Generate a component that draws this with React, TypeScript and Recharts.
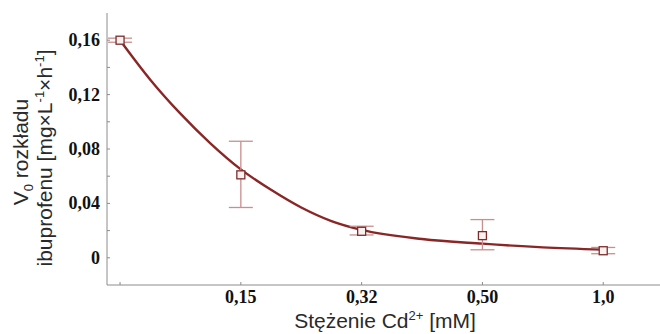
import React from 'react';
import { ComposedChart, Line, Scatter, XAxis, YAxis, ErrorBar } from 'recharts';

const categoryIndex = [0, 1, 2, 3, 4];
const categoryLabels = ['', '0,15', '0,32', '0,50', '1,0'];
const meanRate = [0.16, 0.061, 0.0195, 0.0163, 0.0052];
const errorLow = [0.0015, 0.024, 0.0027, 0.0104, 0.0022];
const errorHigh = [0.0015, 0.0247, 0.0037, 0.0118, 0.0024];
const fitX = [0, 0.25, 0.5, 0.75, 1, 1.25, 1.5, 1.75, 2, 2.5, 3, 3.5, 4];
const fitY = [0.16, 0.131, 0.106, 0.084, 0.065, 0.05, 0.037, 0.027, 0.0205, 0.0138, 0.0104, 0.0077, 0.006];
const yAllTicks = [0, 0.02, 0.04, 0.06, 0.08, 0.1, 0.12, 0.14, 0.16];
const yMajorTicks = [0, 0.04, 0.08, 0.12, 0.16];
const topTicks = [1, 2, 3, 4, 5];

const pointData = categoryIndex.map((x, i) => ({
  x,
  y: meanRate[i],
  err: [errorLow[i], errorHigh[i]],
}));
const fitData = fitX.map((x, i) => ({ x, fit: fitY[i] }));

const AXIS = '#8c8c8c';
const CURVE = '#8a2626';
const ERR = '#c98e8e';
const MARK = '#7c2c2c';

const fmt = (v: number) => v.toFixed(2).replace('.', ',');

const BottomTick = (props: any) => {
  const { x, y, payload } = props;
  const idx = categoryIndex.indexOf(Math.round(payload.value));
  const label = idx >= 0 ? categoryLabels[idx] : '';
  return (
    <g>
      <line x1={x} x2={x} y1={y} y2={y - 3} stroke={AXIS} strokeWidth={1} />
      {label ? (
        <text x={x} y={y + 18} textAnchor="middle" fontFamily="'Liberation Serif', 'Times New Roman', serif" fontWeight="bold" fontSize={18} fill="#111">
          {label}
        </text>
      ) : null}
    </g>
  );
};

const TopTick = (props: any) => {
  const { x, y } = props;
  return <line x1={x} x2={x} y1={y} y2={y + 3} stroke={AXIS} strokeWidth={1} />;
};

const LeftTick = (props: any) => {
  const { x, y, payload } = props;
  const v = payload.value;
  const major = yMajorTicks.some((m) => Math.abs(m - v) < 1e-9);
  return (
    <g>
      <line x1={x} x2={x + 3} y1={y} y2={y} stroke={AXIS} strokeWidth={1} />
      {major ? (
        <text x={x - 7} y={y + 6} textAnchor="end" fontFamily="'Liberation Serif', 'Times New Roman', serif" fontWeight="bold" fontSize={18} fill="#111">
          {v === 0 ? '0' : fmt(v)}
        </text>
      ) : null}
    </g>
  );
};

const YTitle = () => (
  <g fontFamily="'Liberation Sans', Arial, sans-serif" fontSize={21} fill="#2a2a2a">
    <text transform="translate(27.5,152) rotate(-90)" x={0} y={0} textAnchor="middle">
      V<tspan fontSize={13} dy={5}>0</tspan>
      <tspan dy={-5}> rozkładu</tspan>
    </text>
    <text transform="translate(51.5,158) rotate(-90)" x={0} y={0} textAnchor="middle">
      ibuprofenu [mg×L<tspan fontSize={13} dy={-8}>-1</tspan>
      <tspan dy={8}>×h</tspan>
      <tspan fontSize={13} dy={-8}>-1</tspan>
      <tspan dy={8}>]</tspan>
    </text>
  </g>
);

const XTitle = () => (
  <text x={385} y={328} textAnchor="middle" fontFamily="'Liberation Sans', Arial, sans-serif" fontSize={21} fill="#2a2a2a">
    Stężenie Cd<tspan fontSize={13} dy={-8}>2+</tspan>
    <tspan dy={8}> [mM]</tspan>
  </text>
);

const SquareMark = (props: any) => {
  const { cx, cy } = props;
  return <rect x={cx - 4} y={cy - 4} width={8} height={8} fill="#fbf1f1" stroke={MARK} strokeWidth={1.3} />;
};

export default function App() {
  return (
    <div style={{ position: 'absolute', left: 0, top: 0, width: 660, height: 334, background: '#fff' }}>
      <ComposedChart width={660} height={334} margin={{ top: 13, right: 0, bottom: 0, left: 0 }}>
        <XAxis
          xAxisId="top"
          orientation="top"
          type="number"
          domain={[0.498, 5.84]}
          ticks={topTicks}
          allowDataOverflow
          height={0}
          tickSize={0}
          tickMargin={0}
          tick={<TopTick />}
          tickLine={false}
          axisLine={{ stroke: AXIS, strokeWidth: 1 }}
        />
        <XAxis
          dataKey="x"
          type="number"
          domain={[-0.108, 4.47]}
          ticks={categoryIndex}
          allowDataOverflow
          height={49}
          tickSize={0}
          tickMargin={0}
          tick={<BottomTick />}
          tickLine={false}
          axisLine={{ stroke: AXIS, strokeWidth: 1 }}
          label={<XTitle />}
        />
        <YAxis
          type="number"
          domain={[-0.02, 0.18]}
          ticks={yAllTicks}
          allowDataOverflow
          width={107}
          tickSize={0}
          tickMargin={0}
          tick={<LeftTick />}
          tickLine={false}
          axisLine={{ stroke: AXIS, strokeWidth: 1 }}
          label={<YTitle />}
        />
        <Line
          data={fitData}
          dataKey="fit"
          type="monotone"
          stroke={CURVE}
          strokeWidth={2.4}
          dot={false}
          activeDot={false}
          isAnimationActive={false}
        />
        <Scatter data={pointData} dataKey="y" shape={<SquareMark />} isAnimationActive={false}>
          <ErrorBar dataKey="err" direction="y" width={12} stroke={ERR} strokeWidth={1.3} />
        </Scatter>
      </ComposedChart>
    </div>
  );
}
